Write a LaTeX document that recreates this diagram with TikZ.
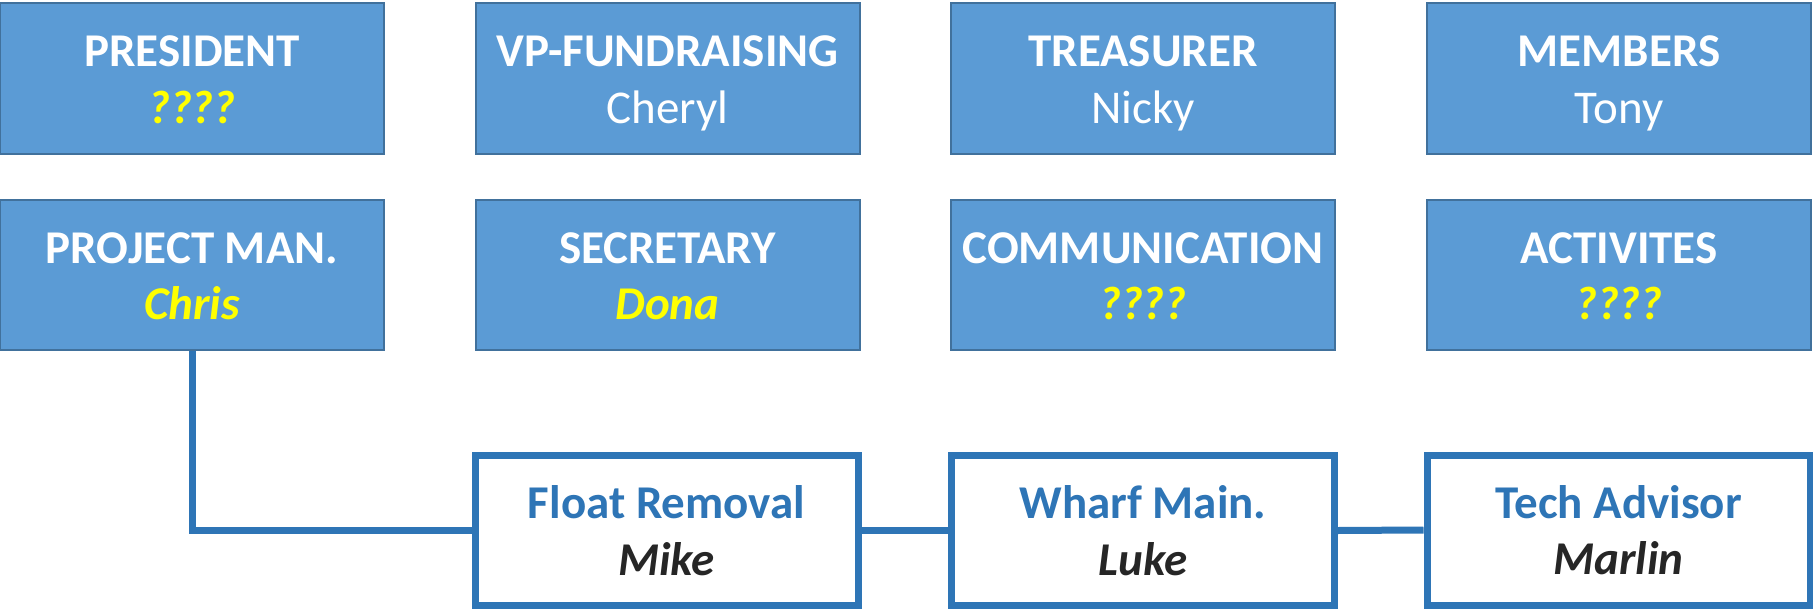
\documentclass[tikz,border=0pt]{standalone}
\usepackage{fontspec}
\setmainfont{Carlito}
\definecolor{boxfill}{HTML}{5B9BD5}
\definecolor{boxline}{HTML}{41719C}
\definecolor{accent}{HTML}{2E75B6}
\definecolor{namegray}{HTML}{262626}
\definecolor{qyellow}{HTML}{FFFF00}
\tikzset{
  rolebox/.style={draw=boxline, fill=boxfill, line width=2pt, minimum width=384pt, minimum height=150pt, inner sep=0pt},
  teambox/.style={draw=accent, fill=white, line width=7pt, minimum width=383pt, minimum height=150pt, inner sep=0pt},
  txt/.style={anchor=base, inner sep=0pt},
  titletxt/.style={txt, yshift=12pt, font=\fontsize{47}{57}\selectfont\bfseries},
  nametxt/.style={txt, yshift=-44.5pt},
  rtitle/.style={titletxt, text=white},
  rname/.style={nametxt, text=white, font=\fontsize{47}{57}\selectfont},
  rvacant/.style={nametxt, text=qyellow, font=\fontsize{47}{57}\selectfont\bfseries\itshape},
  ttitle/.style={titletxt, text=accent},
  tname/.style={nametxt, text=namegray, font=\fontsize{47}{57}\selectfont\bfseries\itshape},
  link/.style={draw=accent, line width=7pt}
}
\begin{document}
\begin{tikzpicture}[x=1pt,y=1pt]
\useasboundingbox (0,0) rectangle (1813,-610);
% row 1
\node[rolebox] (pres) at (192,-78.5) {};
\node[rolebox] (vp) at (667.5,-78.5) {};
\node[rolebox] (treas) at (1143,-78.5) {};
\node[rolebox] (memb) at (1619,-78.5) {};
\node[rtitle] (presT) at (pres.center) {PRESIDENT};
\node[rvacant] (presN) at (pres.center) {????};
\node[rtitle] (vpT) at (vp.center) {VP-FUNDRAISING};
\node[rname] (vpN) at (vp.center) {Cheryl};
\node[rtitle] (treasT) at (treas.center) {TREASURER};
\node[rname] (treasN) at (treas.center) {Nicky};
\node[rtitle] (membT) at (memb.center) {MEMBERS};
\node[rname] (membN) at (memb.center) {Tony};
% row 2
\node[rolebox] (pm) at (192,-275) {};
\node[rolebox] (sec) at (667.5,-275) {};
\node[rolebox] (comm) at (1143,-275) {};
\node[rolebox] (act) at (1619,-275) {};
\node[rtitle] (pmT) at (pm.center) {PROJECT MAN.};
\node[rvacant] (pmN) at (pm.center) {Chris};
\node[rtitle] (secT) at (sec.center) {SECRETARY};
\node[rvacant] (secN) at (sec.center) {Dona};
\node[rtitle] (commT) at (comm.center) {COMMUNICATION};
\node[rvacant] (commN) at (comm.center) {????};
\node[rtitle] (actT) at (act.center) {ACTIVITES};
\node[rvacant] (actN) at (act.center) {????};
% row 3
\node[teambox] (float) at (666.5,-530.5) {};
\node[teambox] (wharf) at (1143,-530.5) {};
\node[teambox] (tech) at (1618.5,-530) {};
\node[ttitle] (floatT) at (float.center) {Float Removal};
\node[tname] (floatN) at (float.center) {Mike};
\node[ttitle] (wharfT) at (wharf.center) {Wharf Main.};
\node[tname] (wharfN) at (wharf.center) {Luke};
\node[ttitle] (techT) at (tech.center) {Tech Advisor};
\node[tname] (techN) at (tech.center) {Marlin};
% connectors
\draw[link] (pm.south) |- (float.west);
\draw[link] (float.east) -- (wharf.west);
\draw[link] (wharf.east) -- (tech.west);
\end{tikzpicture}
\end{document}
